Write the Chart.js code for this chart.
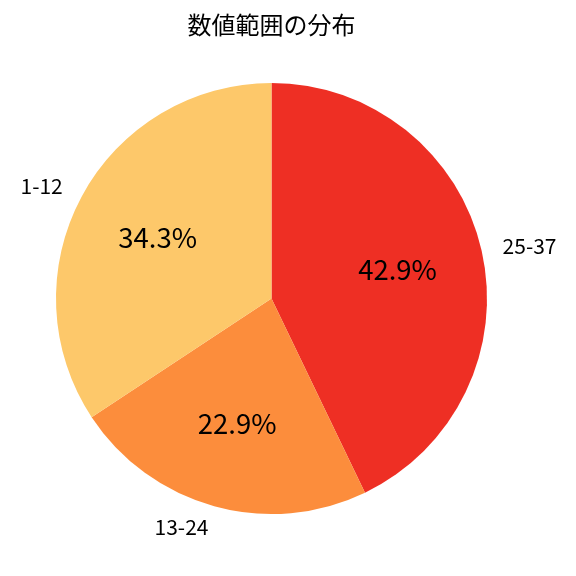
<!DOCTYPE html>
<html>
<head>
<meta charset="utf-8">
<script src="https://cdn.jsdelivr.net/npm/chart.js@4"></script>
<style>
  html, body { margin: 0; padding: 0; background: #fff; }
  #wrap { width: 576px; height: 576px; }
</style>
</head>
<body>
<div id="wrap"><canvas id="myChart" width="576" height="576"></canvas></div>
<script>
var labels = ['25-37', '13-24', '1-12'];
var counts = [15, 8, 12];
var colors = ['#EE2F24', '#FC8D3C', '#FDC86A'];
var titleText = '数値範囲の分布';

var FONT = '"Noto Sans CJK JP", "Noto Sans", sans-serif';

// labels outside (1.1 r) and percents inside (0.6 r), like matplotlib pie
var pieText = {
    id: 'pieText',
    afterDatasetsDraw: function (chart) {
        var ctx = chart.ctx;
        var meta = chart.getDatasetMeta(0);
        var total = counts.reduce(function (a, b) { return a + b; }, 0);
        ctx.save();
        ctx.fillStyle = '#000';
        ctx.textBaseline = 'middle';
        meta.data.forEach(function (arc, i) {
            var mid = (arc.startAngle + arc.endAngle) / 2;
            var r = arc.outerRadius;
            var cx = Math.cos(mid), cy = Math.sin(mid);
            // percent
            ctx.font = '27.5px ' + FONT;
            ctx.textAlign = 'center';
            ctx.fillText((counts[i] / total * 100).toFixed(1) + '%', arc.x + cx * r * 0.6, arc.y + cy * r * 0.6);
            // category label
            ctx.font = '21px ' + FONT;
            ctx.textAlign = cx > 0 ? 'left' : 'right';
            ctx.fillText(labels[i], arc.x + cx * r * 1.1, arc.y + cy * r * 1.1);
        });
        ctx.restore();
    }
};

var ctx = document.getElementById('myChart').getContext('2d');
var chart = new Chart(ctx, {
    type: 'pie',
    data: {
        labels: labels,
        datasets: [{
            data: counts,
            backgroundColor: colors,
            borderWidth: 0
        }]
    },
    options: {
        responsive: false,
        animation: false,
        layout: { padding: { left: 56, right: 89, top: 0, bottom: 62 } },
        plugins: {
            legend: { display: false },
            tooltip: { enabled: false },
            title: {
                display: true,
                text: titleText,
                color: '#000',
                font: { family: FONT, size: 24, weight: 'normal' },
                padding: { top: 10, bottom: 44.2 }
            }
        }
    },
    plugins: [pieText]
});
</script>
</body>
</html>
